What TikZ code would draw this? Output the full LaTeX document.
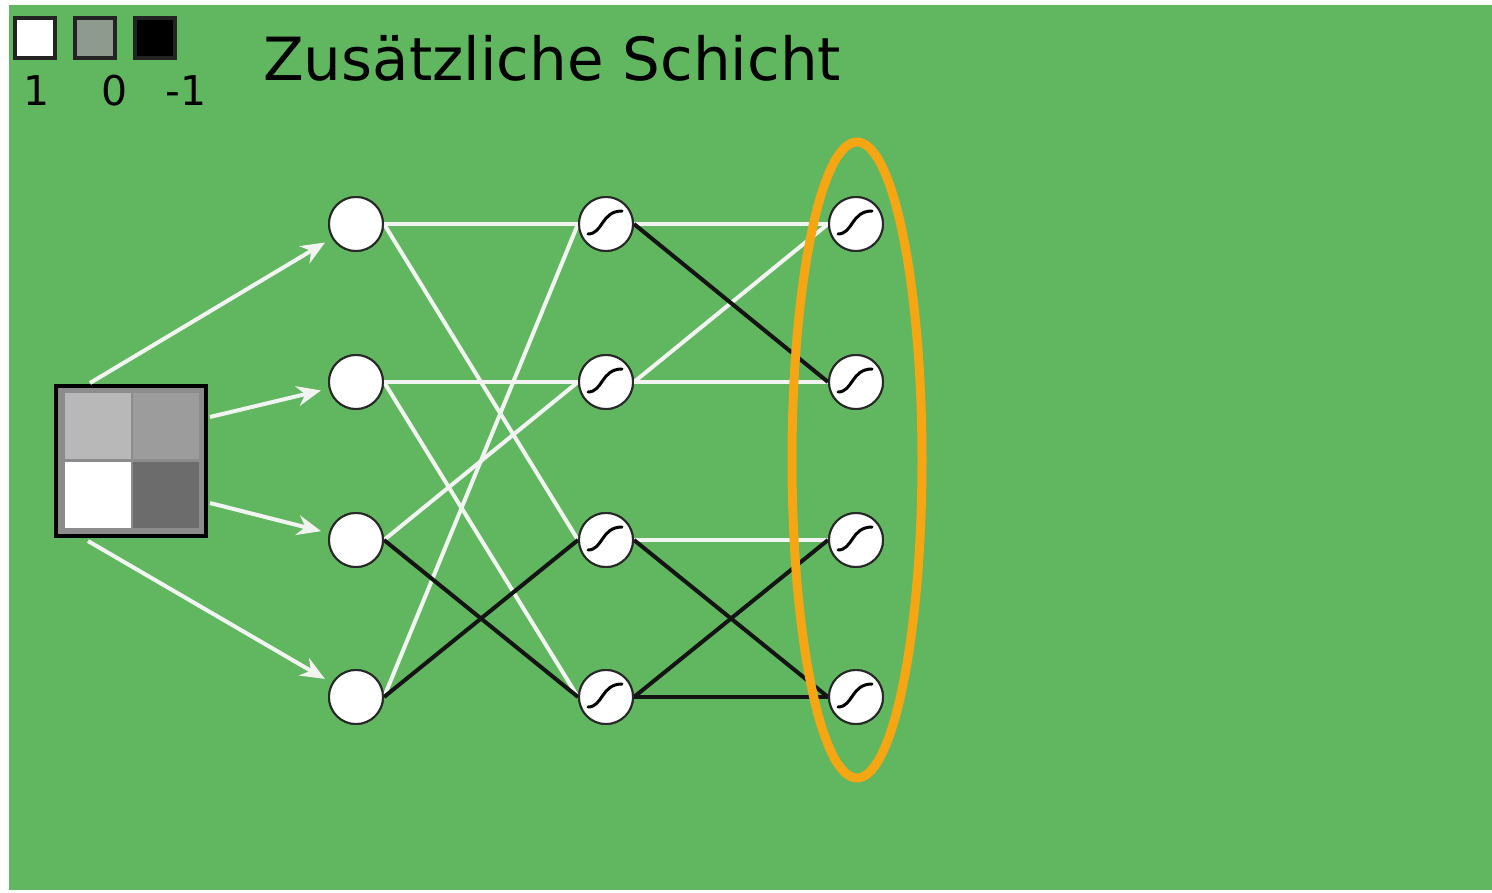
\documentclass[tikz,border=0pt]{standalone}
\usepackage{fontspec}
\setmainfont{DejaVu Sans}
\usetikzlibrary{arrows.meta,calc,shapes.geometric}
\definecolor{bggreen}{RGB}{97,182,96}
\definecolor{ringorange}{RGB}{246,166,18}
\definecolor{wline}{RGB}{242,244,242}
\definecolor{bline}{RGB}{20,20,20}
\definecolor{legendgray}{RGB}{143,154,143}
\tikzset{
  neuron/.style={circle,draw={rgb,255:red,40;green,40;blue,40},line width=2pt,fill=white,minimum size=54pt,inner sep=0pt},
  wpos/.style={draw=wline,line width=4pt},
  wneg/.style={draw=bline,line width=4pt},
  inarrow/.style={draw=wline,line width=4pt,-{Stealth[length=24pt,width=20pt]},shorten >=8pt},
  sig/.style={draw=black,line width=3pt,line cap=round},
  legbox/.style={draw={rgb,255:red,35;green,35;blue,35},line width=3.5pt,minimum size=40pt,inner sep=0pt},
  leglabel/.style={font=\fontsize{41}{44}\selectfont,text=black,inner sep=0pt},
  cell/.style={minimum size=66pt,inner sep=0pt,draw=none}
}
\begin{document}
\begin{tikzpicture}[x=1pt,y=-1pt]
\useasboundingbox (0,0) rectangle (1492,892);
\fill[white] (0,0) rectangle (1492,892);
\fill[bggreen] (9,5) rectangle (1492,890);

% legend
\node[legbox,fill=white] (lw) at (35,38) {};
\node[legbox,fill=legendgray] (lg) at (95,38) {};
\node[legbox,fill=black] (lb) at (155,38) {};
\node[leglabel,anchor=base] (lw1) at (37,105) {1};
\node[leglabel,anchor=base] (lg1) at (115,105) {0};
\node[leglabel,anchor=base] (lb1) at (186,105) {-1};

% title
\node[anchor=base west,inner sep=0pt,font=\fontsize{59.5}{66}\selectfont] (title) at (263,80) {Zusätzliche Schicht};

% input square
\node[draw=black,line width=4pt,fill={rgb,255:red,140;green,140;blue,140},minimum size=150pt,inner sep=0pt] (sq) at (131,461) {};
\node[cell,fill={rgb,255:red,184;green,184;blue,184}] (c11) at (98,426) {};
\node[cell,fill={rgb,255:red,156;green,156;blue,156}] (c12) at (166,426) {};
\node[cell,fill=white] (c21) at (98,495) {};
\node[cell,fill={rgb,255:red,108;green,108;blue,108}] (c22) at (166,495) {};

% neurons
\foreach \r/\y in {1/224,2/382,3/540,4/697}{
  \node[neuron] (i\r) at (356,\y) {};
  \node[neuron] (h\r) at (606,\y) {};
  \node[neuron] (o\r) at (856,\y) {};
}

% input arrows
\coordinate (a1) at (90,383);
\coordinate (a2) at (210,417);
\coordinate (a3) at (210,503);
\coordinate (a4) at (88,541);
\draw[inarrow] (a1) -- (i1);
\draw[inarrow] (a2) -- (i2);
\draw[inarrow] (a3) -- (i3);
\draw[inarrow] (a4) -- (i4);

% input -> hidden
\draw[wpos] (i1.east) -- (h1.west);
\draw[wpos] (i1.east) -- (h3.west);
\draw[wpos] (i2.east) -- (h2.west);
\draw[wpos] (i2.east) -- (h4.west);
\draw[wpos] (i3.east) -- (h2.west);
\draw[wpos] (i4.east) -- (h1.west);
\draw[wneg] (i3.east) -- (h4.west);
\draw[wneg] (i4.east) -- (h3.west);

% hidden -> output
\draw[wpos] (h1.east) -- (o1.west);
\draw[wpos] (h2.east) -- (o2.west);
\draw[wpos] (h2.east) -- (o1.west);
\draw[wpos] (h3.east) -- (o3.west);
\draw[wneg] (h1.east) -- (o2.west);
\draw[wneg] (h3.east) -- (o4.west);
\draw[wneg] (h4.east) -- (o3.west);
\draw[wneg] (h4.east) -- (o4.west);

% redraw neurons on top of line ends
\foreach \r/\y in {1/224,2/382,3/540,4/697}{
  \node[neuron] at (356,\y) {};
  \node[neuron] at (606,\y) {};
  \node[neuron] at (856,\y) {};
}

% sigmoid glyphs
\foreach \n in {h1,h2,h3,h4,o1,o2,o3,o4}{
  \draw[sig] ([shift={(-18,10)}]\n.center) .. controls ([shift={(-3,10)}]\n.center) and ([shift={(-5,-13)}]\n.center) .. ([shift={(16,-13)}]\n.center);
}

% highlight ellipse
\node[draw=ringorange,line width=9pt,ellipse,minimum width=130pt,minimum height=636pt,inner sep=0pt] (ring) at (857,460) {};
\end{tikzpicture}
\end{document}
